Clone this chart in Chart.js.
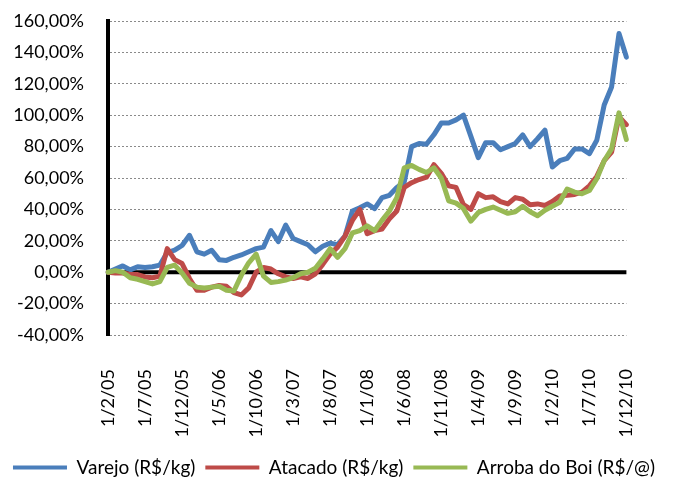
<!DOCTYPE html>
<html><head><meta charset="utf-8">
<script src="https://cdn.jsdelivr.net/npm/chart.js@4.4.1/dist/chart.umd.min.js"></script>
<style>html,body{margin:0;padding:0;background:#fff}canvas{display:block}</style>
</head><body>
<canvas id="c" width="674" height="480"></canvas>
<script>
const categories = [
  '1/2/05','1/3/05','1/4/05','1/5/05','1/6/05','1/7/05','1/8/05','1/9/05','1/10/05','1/11/05','1/12/05',
  '1/1/06','1/2/06','1/3/06','1/4/06','1/5/06','1/6/06','1/7/06','1/8/06','1/9/06','1/10/06','1/11/06','1/12/06',
  '1/1/07','1/2/07','1/3/07','1/4/07','1/5/07','1/6/07','1/7/07','1/8/07','1/9/07','1/10/07','1/11/07','1/12/07',
  '1/1/08','1/2/08','1/3/08','1/4/08','1/5/08','1/6/08','1/7/08','1/8/08','1/9/08','1/10/08','1/11/08','1/12/08',
  '1/1/09','1/2/09','1/3/09','1/4/09','1/5/09','1/6/09','1/7/09','1/8/09','1/9/09','1/10/09','1/11/09','1/12/09',
  '1/1/10','1/2/10','1/3/10','1/4/10','1/5/10','1/6/10','1/7/10','1/8/10','1/9/10','1/10/10','1/11/10','1/12/10'
];
const xTickLabels = ['1/2/05','1/7/05','1/12/05','1/5/06','1/10/06','1/3/07','1/8/07','1/1/08','1/6/08','1/11/08','1/4/09','1/9/09','1/2/10','1/7/10','1/12/10'];
const yTickValues = [-40,-20,0,20,40,60,80,100,120,140,160];
const yTickLabels = ['-40,00%','-20,00%','0,00%','20,00%','40,00%','60,00%','80,00%','100,00%','120,00%','140,00%','160,00%'];
const seriesNames = ['Varejo (R$/kg)','Atacado (R$/kg)','Arroba do Boi (R$/@)'];

const varejo = [
  0, 2, 4, 1.5, 3.5, 3, 3.5, 4.5, 12.5, 14,
  17, 23.5, 13, 11.5, 14, 8, 7.5, 9.5, 11, 13,
  15, 16, 26.5, 19.5, 30, 21.5, 19.5, 17.5, 13, 16.5,
  18.5, 17.5, 23, 39, 41, 43.5, 40.5, 47.5, 49, 54,
  57.5, 80, 82, 81.5, 87.5, 95, 95, 97, 100, 86.5,
  73, 82.5, 82.5, 78, 80, 82, 87.5, 80, 85, 90.5,
  67, 71, 72.5, 78.5, 78.5, 75.5, 84, 106.5, 118, 152,
  137
];
const atacado = [
  0, -0.5, -0.5, -1.5, -1.5, -3, -3.5, -2.5, 15, 8,
  5.5, -4, -11.5, -11.5, -9.5, -8.5, -9, -13, -14.5, -10,
  0, 3, 2, -1, -3, -4, -3, -4, -1, 5,
  11.5, 16, 23, 33, 40, 24.5, 26.5, 27.5, 34, 39,
  54, 57, 59, 60.5, 68.5, 63, 55, 54, 43, 40,
  50, 47.5, 48, 45, 43.5, 47.5, 46.5, 43, 43.5, 42.5,
  45, 48.5, 49, 49.5, 51, 55, 61, 71, 76.5, 99,
  94
];
const arroba = [
  0, 1, 0, -3.5, -4.5, -6, -7.5, -6, 3, 4.5,
  -0.5, -7, -9.5, -10, -9.5, -9, -11.5, -12, -2, 6,
  11.5, -2.5, -6.5, -6, -5, -3.5, -1, 0, 2.5, 8.5,
  15, 9.5, 15, 25, 26.5, 29.5, 26.5, 33, 39, 47.5,
  66.5, 68, 65.5, 63.5, 66.5, 60, 45.5, 44, 40.5, 32.5,
  38, 40, 41.5, 39.5, 37.5, 38.5, 42, 38.5, 36, 39.5,
  42, 44.5, 53, 51, 50, 52, 59.5, 71, 78.5, 101.5,
  84.5
];

const FONT = 'Lato';
const zeroLine = {
  id: 'zeroLine',
  beforeDatasetsDraw(chart) {
    const {ctx, chartArea: a, scales: {y}} = chart;
    const py = y.getPixelForValue(0);
    ctx.save();
    ctx.strokeStyle = '#000';
    ctx.lineWidth = 4;
    ctx.beginPath();
    ctx.moveTo(a.left, py);
    ctx.lineTo(a.right, py);
    ctx.stroke();
    ctx.restore();
  }
};

function ds(label, data, color, order) {
  return {label, data, borderColor: color, backgroundColor: color, borderWidth: 5,
    pointRadius: 0, tension: 0, borderJoinStyle: 'round', borderCapStyle: 'round', order, fill: false};
}

new Chart(document.getElementById('c'), {
  type: 'line',
  data: {
    labels: categories,
    datasets: [
      ds(seriesNames[0], varejo, '#4A7EBB', 3),
      ds(seriesNames[1], atacado, '#BE4B48', 2),
      ds(seriesNames[2], arroba, '#98B954', 1)
    ]
  },
  plugins: [zeroLine],
  options: {
    responsive: false, animation: false, devicePixelRatio: 1,
    layout: {padding: {top: 21, right: 6, bottom: -7, left: 0}},
    plugins: {
      tooltip: {enabled: false},
      legend: {
        position: 'bottom',
        labels: {
          font: {family: FONT, size: 19}, color: '#000', boxWidth: 54, boxHeight: 4, padding: 10,
          sort: (a, b) => a.datasetIndex - b.datasetIndex,
          generateLabels(chart) {
            return Chart.defaults.plugins.legend.labels.generateLabels(chart)
              .map(l => Object.assign({}, l, {fillStyle: l.strokeStyle, lineWidth: 0}));
          }
        }
      }
    },
    scales: {
      x: {
        grid: {display: false}, border: {display: false},
        ticks: {autoSkip: false, maxRotation: 90, minRotation: 90, padding: 26, color: '#000',
          font: {family: FONT, size: 18},
          callback(v, i) { const l = categories[i]; return xTickLabels.includes(l) ? l : ''; }},
        afterFit(s) { s.height = 113; }
      },
      y: {
        min: -40, max: 160,
        ticks: {stepSize: 20, padding: 24, color: '#000', font: {family: FONT, size: 18},
          callback(v) { const k = yTickValues.indexOf(v); return k < 0 ? '' : yTickLabels[k]; }},
        grid: {drawTicks: false, lineWidth: 1,
          color: c => (c.tick && c.tick.value === 0) ? 'rgba(0,0,0,0)' : '#8a8a8a'},
        border: {color: '#000', width: 4, dash: [2, 2]},
        afterFit(s) { s.width = 108; s.paddingTop = 0; s.paddingBottom = 0; }
      }
    }
  }
});
</script>
</body></html>
